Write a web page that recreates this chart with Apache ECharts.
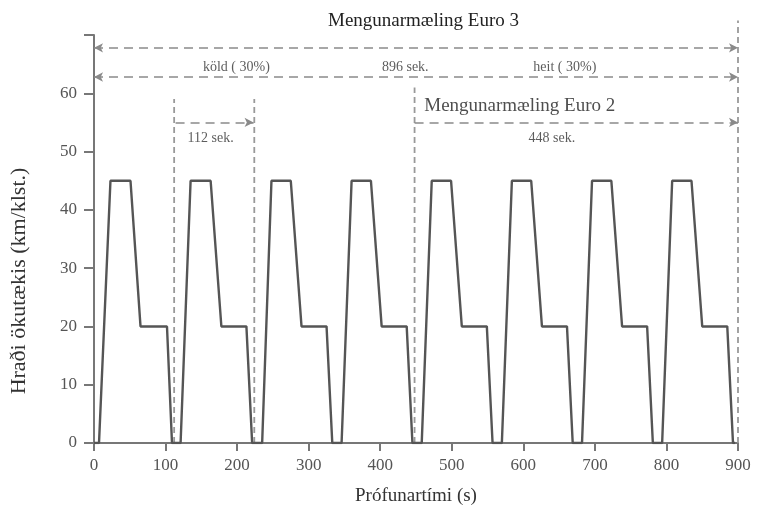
<!DOCTYPE html>
<html>
<head>
<meta charset="utf-8">
<script src="https://cdn.jsdelivr.net/npm/echarts@6/dist/echarts.min.js"></script>
<style>html,body{margin:0;padding:0;background:#fff}#c{width:760px;height:516px}</style>
</head>
<body>
<div id="c"></div>
<script>
// Speed profile (time in s, speed in km/h)
const profileTimes = [0, 7, 23, 51, 65, 102, 109,
  121, 135, 163, 178, 213, 221,
  235, 248, 275, 290, 325, 333,
  346, 360, 387, 402, 437, 445,
  458, 472, 499, 514, 549, 557,
  570, 584, 611, 626, 661, 669,
  682, 696, 723, 738, 773, 781,
  794, 808, 835, 850, 885, 893, 896];
const profileSpeeds = [0, 0, 45, 45, 20, 20, 0,
  0, 45, 45, 20, 20, 0,
  0, 45, 45, 20, 20, 0,
  0, 45, 45, 20, 20, 0,
  0, 45, 45, 20, 20, 0,
  0, 45, 45, 20, 20, 0,
  0, 45, 45, 20, 20, 0,
  0, 45, 45, 20, 20, 0, 0];

// Vertical dashed dividers
const dividerTimes = [112, 224, 448, 900];
const dividerTops = [59, 59, 61, 72.5];

// Horizontal dashed arrows: start, end, level, arrow at start?
const arrowStarts = [0, 0, 114, 448];
const arrowEnds = [900, 900, 223, 900];
const arrowLevels = [67.8, 62.8, 55, 55];
const arrowBoth = [true, true, false, false];

// Annotation texts
const smallTexts = ['köld ( 30%)', '896 sek.', 'heit ( 30%)', '112 sek.', '448 sek.'];
const smallTimes = [199, 435, 658, 163, 640];
const smallLevels = [64.4, 64.4, 64.4, 52.3, 52.3];
const bigTexts = ['Mengunarmæling Euro 2'];
const bigTimes = [595];
const bigLevels = [57.8];

const xTicks = [0, 100, 200, 300, 400, 500, 600, 700, 800, 900];
const yTicks = [0, 10, 20, 30, 40, 50, 60];

const FONT = 'Liberation Serif';
const chart = echarts.init(document.getElementById('c'));

const profile = profileTimes.map((t, i) => [t, profileSpeeds[i]]);

const series = [{
  type: 'line',
  data: profile,
  showSymbol: false,
  symbol: 'none',
  lineStyle: { color: '#555', width: 2.4 },
  silent: true,
  z: 5,
  markLine: {
    silent: true,
    symbol: ['arrow', 'arrow'],
    symbolSize: [7, 9],
    label: { show: false },
    lineStyle: { color: '#8a8a8a', width: 1.6, type: [9, 6] },
    data: arrowStarts.map((s, i) => [
      { coord: [s, arrowLevels[i]], symbol: arrowBoth[i] ? 'arrow' : 'none' },
      { coord: [arrowEnds[i], arrowLevels[i]], symbol: 'arrow' }
    ])
  }
}];

dividerTimes.forEach((t, i) => {
  series.push({
    type: 'line',
    data: [[t, 0], [t, dividerTops[i]]],
    symbol: 'none',
    clip: false,
    silent: true,
    lineStyle: { color: '#999', width: 1.8, type: [6, 4] },
    z: 3
  });
});

series.push({
  type: 'scatter',
  symbolSize: 0,
  silent: true,
  data: smallTexts.map((n, i) => ({ name: n, value: [smallTimes[i], smallLevels[i]] })),
  label: {
    show: true, position: 'inside', formatter: p => p.name,
    fontFamily: FONT, fontSize: 14, color: '#333'
  }
});
series.push({
  type: 'scatter',
  symbolSize: 0,
  silent: true,
  data: bigTexts.map((n, i) => ({ name: n, value: [bigTimes[i], bigLevels[i]] })),
  label: {
    show: true, position: 'inside', formatter: p => p.name,
    fontFamily: FONT, fontSize: 19, color: '#222'
  }
});

chart.setOption({
  animation: false,
  backgroundColor: '#fff',
  title: {
    text: 'Mengunarmæling Euro 3',
    left: 323, top: 7,
    textStyle: { fontFamily: FONT, fontSize: 19, fontWeight: 'normal', color: '#222' }
  },
  grid: { left: 93, right: 22, top: 35, bottom: 73 },
  xAxis: {
    type: 'value', min: 0, max: 900, interval: 100,
    name: 'Prófunartími (s)', nameLocation: 'middle', nameGap: 44,
    nameTextStyle: { fontFamily: FONT, fontSize: 19, color: '#333' },
    axisLine: { show: true, onZero: false, lineStyle: { color: '#777', width: 2 } },
    axisTick: { show: true, length: 8, lineStyle: { color: '#777', width: 2 } },
    axisLabel: {
      margin: 14, fontFamily: FONT, fontSize: 17, color: '#555',
      formatter: v => xTicks.includes(v) ? String(v) : ''
    },
    splitLine: { show: false }
  },
  yAxis: {
    type: 'value', min: 0, max: 70, interval: 10,
    name: 'Hraði ökutækis (km/klst.)', nameLocation: 'middle', nameGap: 64,
    nameTextStyle: { fontFamily: FONT, fontSize: 22, color: '#333', padding: [0, 84, 0, 0] },
    axisLine: { show: true, lineStyle: { color: '#777', width: 2 } },
    axisTick: { show: true, length: 10, lineStyle: { color: '#777', width: 2 } },
    axisLabel: {
      margin: 17, fontFamily: FONT, fontSize: 17, color: '#555',
      formatter: v => yTicks.includes(v) ? String(v) : ''
    },
    splitLine: { show: false }
  },
  series: series
});
</script>
</body>
</html>
